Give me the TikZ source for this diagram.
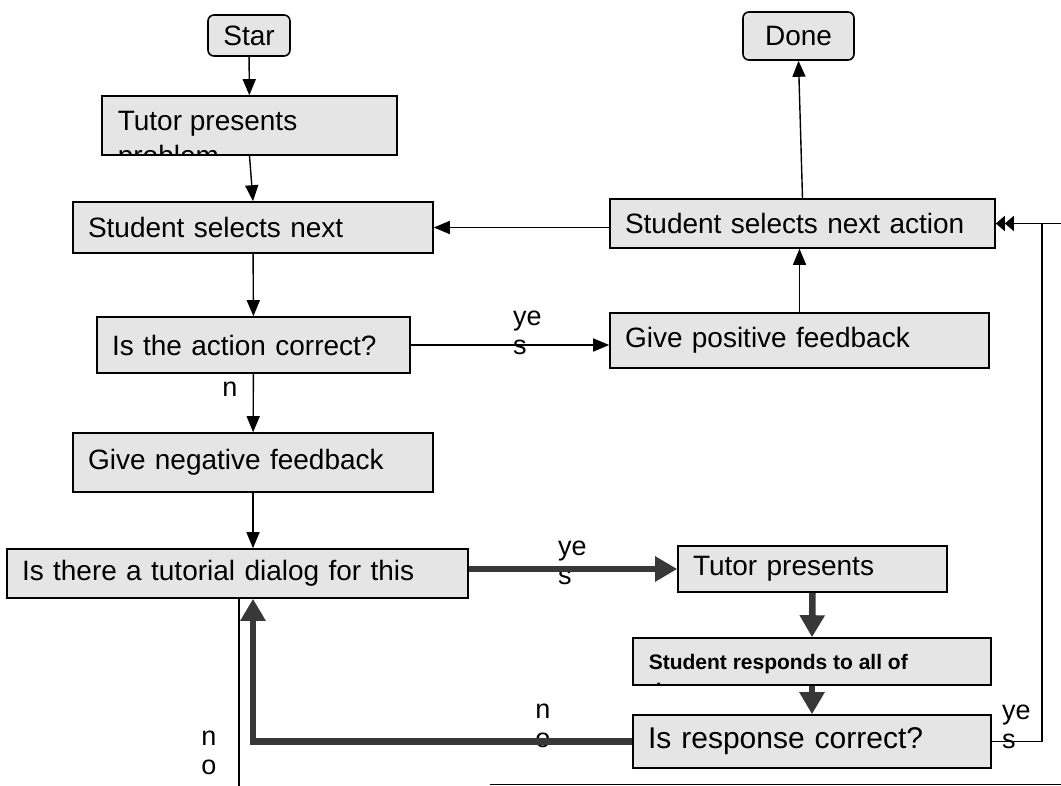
\documentclass[tikz,border=0pt]{standalone}
\usepackage{fontspec}
\setmainfont{Liberation Sans}
\usetikzlibrary{arrows.meta}

\definecolor{boxfill}{gray}{0.9}
\definecolor{thickgray}{gray}{0.22}

\begin{document}
\begin{tikzpicture}[x=1pt, y=-1pt,
  box/.style={draw, line width=1.6pt, fill=boxfill, inner xsep=15pt, inner ysep=0pt,
    align=left, font=\fontsize{28}{32}\selectfont},
  endbox/.style={box, rounded corners=6pt, align=center, inner xsep=4pt},
  cuttext/.style={anchor=north west, inner sep=0pt, align=left, draw=none, fill=none,
    minimum width=0pt, minimum height=0pt},
  thinarrow/.style={line width=1.4pt, -{Triangle[length=16pt,width=13pt]}},
  thickarrow/.style={line width=6.5pt, draw=thickgray, -{Triangle[length=22pt,width=24pt]}},
  lbl/.style={inner sep=0pt, font=\fontsize{27}{29}\selectfont}]

\useasboundingbox (0,0) rectangle (1061,786);

% Start and end
\node[endbox, minimum width=82pt, minimum height=41pt] (start) at (249,35.5) {Star};
\node[endbox, minimum width=111pt, minimum height=48pt] (done) at (798.5,36) {Done};

% Problem box (second line cut off by the box)
\node[box, minimum width=295pt, minimum height=59pt,
  path picture={\node[cuttext, font=\fontsize{28}{38.5}\selectfont]
    at ([xshift=15pt,yshift=-14pt]path picture bounding box.north west) {Tutor presents\\[-3pt]problem};}]
  (problem) at (249.5,125.5) {};

% Main loop
\node[box, text width=330pt, minimum height=51pt] (pickleft) at (253,227.5) {Student selects next};
\node[box, text width=355pt, minimum height=49pt] (pickright) at (802.5,223.5) {Student selects next action};
\node[box, text width=283pt, minimum height=56pt] (check) at (253.5,345) {Is the action correct?};
\node[box, text width=349pt, minimum height=55pt] (praise) at (799.5,340.5) {Give positive feedback};
\node[box, text width=330pt, minimum height=59pt] (scold) at (253,462.5) {Give negative feedback};
\node[box, text width=431pt, minimum height=49pt] (dialog) at (237.5,573.5) {Is there a tutorial dialog for this};

% Tutorial dialog
\node[box, text width=239pt, minimum height=46pt] (present) at (812.5,569) {Tutor presents};
\node[box, minimum width=358pt, minimum height=47pt,
  path picture={\node[cuttext, font=\bfseries\fontsize{21}{25}\selectfont]
    at ([xshift=15pt,yshift=-15pt]path picture bounding box.north west) {Student responds to all of\\[4pt]the tutor};}]
  (respond) at (812,661.5) {};
\node[box, text width=328pt, minimum height=53pt, font=\fontsize{30}{34}\selectfont] (verify) at (812,741.5) {Is response correct?};

% Branch labels
\node[lbl, align=left, anchor=west] (yes1) at (513,332.5) {ye\\s};
\node[lbl, align=left, anchor=west] (yes2) at (558,563) {ye\\s};
\node[lbl, align=left, anchor=west] (yes3) at (1002,727) {ye\\s};
\node[lbl] (nocheck) at (230,389) {n};
\node[lbl, align=center] (no1) at (209,753) {n\\o};
\node[lbl, align=center] (no2) at (543,726) {n\\o};

% Thin connectors
\draw[thinarrow] (start) -- (problem);
\draw[thinarrow] (problem.south) -- (pickleft.north);
\draw[thinarrow] (pickleft.east -| pickright.west) -- (pickleft.east);
\draw[thinarrow] (pickleft) -- (check);
\draw[thinarrow] (pickright.north) -- (done.south);
\draw[thinarrow] (check.east) -- (check.east -| praise.west);
\draw[thinarrow] (praise.north) -- (praise.north |- pickright.south);
\draw[thinarrow] (check) -- (scold);
\draw[thinarrow] (scold.south) -- (scold.south |- dialog.north);

% Thick connectors
\draw[thickarrow] (present.west -| dialog.east) -- (present.west);
\draw[thickarrow] (present.south) -- (respond.north);
\draw[thickarrow] (respond.south) -- (verify.north);
\draw[thickarrow] (verify.west) -| ([xshift=15.5pt]dialog.south);

% Back to the main loop
\coordinate (offpage) at (1061,223.5);
\coordinate (turn) at (1042,223.5);
\draw[line width=1.4pt] (verify.east) -| (turn);
\draw[line width=1.4pt, -{Triangle[length=9pt,width=15pt] Triangle[length=9pt,width=15pt]}]
  (offpage) -- (pickright.east);

% No dialog: leaves the page
\coordinate (exitno) at (239,786);
\draw[line width=1.4pt] (dialog.south -| exitno) -- (exitno);

% Rule at the bottom
\coordinate (rulel) at (490,784.5);
\coordinate (ruler) at (1061,784.5);
\draw[line width=1.6pt] (rulel) -- (ruler);

\end{tikzpicture}
\end{document}
